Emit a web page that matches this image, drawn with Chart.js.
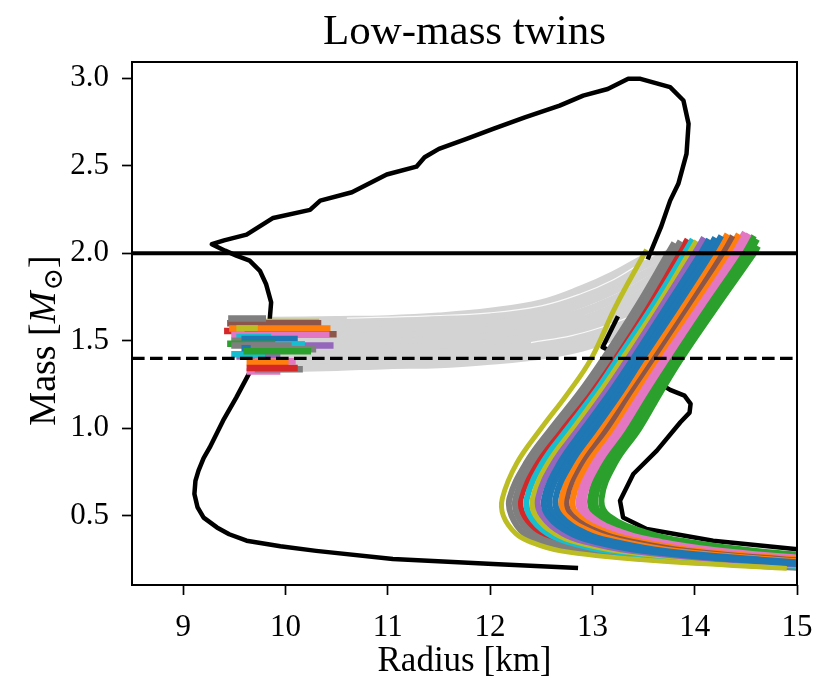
<!DOCTYPE html>
<html>
<head>
<meta charset="utf-8">
<script src="https://cdn.jsdelivr.net/npm/chart.js@4.4.1/dist/chart.umd.min.js"></script>
<style>html,body{margin:0;padding:0;background:#fff;}canvas{display:block;}</style>
</head>
<body>
<canvas id="c" width="820" height="685"></canvas>
<script>
// ---------- text & axes ----------
const TITLE = 'Low-mass twins';
const X_LABEL = 'Radius [km]';
const Y_LABEL_PARTS = ['Mass [', 'M', '\u2299', ']'];
const X_MIN = 8.5, X_MAX = 15.0;
const Y_MIN = 0.105, Y_MAX = 3.093;
const X_TICKS = [9, 10, 11, 12, 13, 14, 15];
const Y_TICKS = [0.5, 1.0, 1.5, 2.0, 2.5, 3.0];

const TAB10 = {blue:'#1f77b4', orange:'#ff7f0e', green:'#2ca02c', red:'#d62728', purple:'#9467bd',
               brown:'#8c564b', pink:'#e377c2', gray:'#7f7f7f', olive:'#bcbd22', cyan:'#17becf'};

// ---------- horizontal reference lines ----------
const REF_SOLID_M = 2.0;
const REF_DASHED_M = 1.4;

// ---------- black envelope, visible outer part ----------
const ENV_A_R = [12.86,12.03,11.05,10.30,9.95,9.62,9.45,9.33,9.20,9.14,9.11,9.12,9.15,9.20,9.26,9.39,9.52,9.65,9.76,9.84,
                 9.86,9.81,9.75,9.65,9.52,9.41,9.28,9.40,9.62,9.88,10.24,10.34,10.65,10.99,11.28,11.36,11.50,11.77,12.03,
                 12.34,12.68,12.91,13.15,13.35,13.47,13.76,13.89,13.94,13.92,13.84,13.76,13.67,13.54];
const ENV_A_M = [0.202,0.225,0.254,0.300,0.326,0.358,0.395,0.434,0.490,0.550,0.625,0.700,0.758,0.830,0.891,1.044,1.177,1.320,1.460,1.580,
                 1.720,1.825,1.900,1.958,1.987,2.015,2.052,2.074,2.107,2.202,2.248,2.301,2.349,2.450,2.495,2.549,2.597,2.654,2.711,
                 2.777,2.844,2.901,2.939,2.997,2.997,2.949,2.873,2.740,2.568,2.397,2.301,2.149,1.965];
// ---------- black envelope, inner/right part ----------
const ENV_B_R = [13.25,13.10,13.17,13.45,13.76,13.90,13.96,13.95,13.86,13.63,13.40,13.27,13.30,13.53,14.18,14.98,15.50];
const ENV_B_M = [1.640,1.463,1.444,1.330,1.220,1.187,1.140,1.090,1.035,0.873,0.739,0.587,0.491,0.425,0.358,0.311,0.295];

// ---------- grey band (unstable branches) ----------
const BAND_R = [9.85, 10.5, 11.0, 11.5, 12.0, 12.5, 12.9, 13.2, 13.5, 13.8];
const BAND_M = [
  [1.614,1.619,1.624,1.639,1.666,1.714,1.796,1.874,1.971,null],
  [1.583,1.589,1.594,1.608,1.634,1.680,1.758,1.833,1.930,2.015],
  [1.548,1.554,1.560,1.573,1.598,1.640,1.712,1.785,1.880,1.970],
  [1.513,1.520,1.526,1.538,1.561,1.600,1.665,1.735,1.830,1.925],
  [1.478,1.485,1.492,1.503,1.525,1.562,1.620,1.688,1.780,1.880],
  [1.442,1.451,1.458,1.467,1.489,1.525,1.579,1.645,1.735,1.835],
  [1.407,1.416,1.425,1.432,1.454,1.487,1.538,1.602,1.690,1.790],
  [1.372,1.382,1.391,1.397,1.418,1.450,1.498,1.560,1.645,1.745],
  [1.341,1.351,1.361,1.366,1.386,1.416,1.461,1.521,1.604,1.704]
];
// thin light seams visible inside the band
const SEAM1_R = [10.6, 11.4, 12.0, 12.5, 12.9, 13.2, 13.45];
const SEAM1_M = [1.630, 1.643, 1.660, 1.700, 1.772, 1.848, 1.935];
const SEAM2_R = [12.4, 12.8, 13.1, 13.4];
const SEAM2_M = [1.490, 1.530, 1.580, 1.644];

// ---------- twin (compact) branches on the left ----------
const TWIN_R0 = [9.52,9.47,9.48,9.43,9.44,9.40,9.45,9.52,9.60,9.47,9.52,9.47,9.57,9.43,9.60,9.90,9.47,9.70,9.57,9.59,9.70,9.62,9.62,9.70,9.62];
const TWIN_R1 = [9.95,9.80,10.33,10.35,9.81,10.00,10.44,9.73,10.50,10.43,9.86,9.62,10.12,9.90,10.47,10.19,10.06,10.30,9.66,10.25,10.10,10.03,9.95,10.17,10.12];
const TWIN_M  = [1.411,1.424,1.607,1.600,1.628,1.556,1.570,1.571,1.537,1.535,1.522,1.500,1.511,1.483,1.473,1.480,1.474,1.452,1.458,1.440,1.383,1.379,1.325,1.338,1.345];
const TWIN_C  = ['purple','cyan','olive','brown','gray','red','orange','olive','brown','pink','cyan','gray','blue','green','purple','cyan','gray','gray','blue','green','pink','orange','pink','gray','red'];

// ---------- hadronic mass-radius curves on the right ----------
const MR_M = [0.20,0.25,0.30,0.35,0.40,0.50,0.60,0.80,1.00,1.20,1.40,1.70,2.00];
const MR_EDGE_R = [14.90,13.47,12.69,12.40,12.25,12.13,12.12,12.26,12.50,12.76,12.99,13.23,13.51];
const MR_EDGE_TOP = [13.53, 2.02];
const MR_R = [
  [15.10,13.65,12.82,12.50,12.33,12.21,12.19,12.35,12.60,12.87,13.11,13.44,13.74],
  [15.20,13.78,12.93,12.59,12.41,12.27,12.25,12.40,12.65,12.92,13.16,13.49,13.79],
  [15.30,13.90,13.04,12.68,12.48,12.33,12.30,12.46,12.71,12.97,13.21,13.54,13.85],
  [15.40,14.03,13.15,12.77,12.56,12.39,12.36,12.51,12.76,13.02,13.25,13.59,13.90],
  [15.50,14.15,13.27,12.86,12.64,12.45,12.42,12.57,12.82,13.07,13.30,13.64,13.95],
  [15.60,14.28,13.38,12.95,12.71,12.51,12.47,12.62,12.87,13.12,13.35,13.68,14.00],
  [15.70,14.40,13.49,13.04,12.79,12.57,12.53,12.68,12.92,13.17,13.40,13.73,14.06],
  [15.80,14.53,13.60,13.13,12.86,12.63,12.58,12.73,12.98,13.22,13.44,13.78,14.11],
  [15.90,14.65,13.71,13.23,12.94,12.69,12.64,12.79,13.03,13.27,13.49,13.83,14.16],
  [16.00,14.78,13.82,13.32,13.02,12.74,12.70,12.84,13.08,13.31,13.54,13.88,14.21],
  [16.10,14.90,13.93,13.41,13.09,12.80,12.75,12.89,13.14,13.36,13.59,13.93,14.27],
  [16.20,15.03,14.04,13.50,13.17,12.86,12.81,12.95,13.19,13.41,13.63,13.98,14.32],
  [16.30,15.15,14.16,13.59,13.25,12.92,12.87,13.00,13.25,13.46,13.68,14.03,14.37],
  [16.40,15.28,14.27,13.68,13.32,12.98,12.92,13.06,13.30,13.51,13.73,14.07,14.42],
  [16.50,15.40,14.38,13.77,13.40,13.04,12.98,13.11,13.35,13.56,13.78,14.12,14.48],
  [16.60,15.53,14.49,13.86,13.47,13.10,13.03,13.17,13.41,13.61,13.82,14.17,14.53],
  [16.70,15.65,14.60,13.95,13.55,13.16,13.09,13.22,13.46,13.66,13.87,14.22,14.58]
];
const MR_TOP_R = [13.80,13.86,13.93,13.98,14.02,14.09,14.14,14.20,14.26,14.32,14.37,14.43,14.49,14.53,14.58,14.61,14.62];
const MR_TOP_M = [2.06,2.07,2.08,2.08,2.07,2.09,2.08,2.09,2.10,2.11,2.10,2.11,2.12,2.11,2.10,2.08,2.04];
const MR_C = ['gray','gray','red','cyan','olive','purple','blue','blue','blue','orange','brown','orange','pink','pink','green','green','green'];
const MR_DRAW = [16,15,14,13,12,11,10,9,2,0,1,3,4,5,8,7,6];

// ---------- build datasets (bottom layer first) ----------
const layers = [];
function pts(rs, ms) {
  const out = [];
  for (let i = 0; i < rs.length; i++) if (rs[i] !== null && ms[i] !== null) out.push({x: rs[i], y: ms[i]});
  return out;
}
function add(data, color, width, extra) {
  layers.push(Object.assign({
    type: 'scatter', data, showLine: true, borderColor: color, backgroundColor: color,
    borderWidth: width, pointRadius: 0, pointHoverRadius: 0, pointHitRadius: 0,
    fill: false, tension: 0, borderCapStyle: 'butt', borderJoinStyle: 'round'
  }, extra || {}));
}
BAND_M.forEach(ms => add(pts(BAND_R, ms), '#d3d3d3', 8, {tension: 0.4}));
add(pts(SEAM1_R, SEAM1_M), 'rgba(255,255,255,0.85)', 1.2, {tension: 0.4});
add(pts(SEAM2_R, SEAM2_M), 'rgba(255,255,255,0.85)', 1.2, {tension: 0.4});
add(pts(ENV_B_R, ENV_B_M), '#000000', 4.5);
MR_DRAW.forEach(i => {
  const d = pts(MR_R[i], MR_M);
  d.push({x: MR_TOP_R[i], y: MR_TOP_M[i]});
  add(d, TAB10[MR_C[i]], 6, {tension: 0.4});
});
{
  const d = pts(MR_EDGE_R, MR_M);
  d.push({x: MR_EDGE_TOP[0], y: MR_EDGE_TOP[1]});
  add(d, TAB10.olive, 5, {tension: 0.4});
}
add(pts(ENV_A_R, ENV_A_M), '#000000', 4.5);
TWIN_M.forEach((m, i) => add([{x: TWIN_R0[i], y: m}, {x: TWIN_R1[i], y: m}], TAB10[TWIN_C[i]], 6.5));
add([{x: X_MIN, y: REF_SOLID_M}, {x: X_MAX, y: REF_SOLID_M}], '#000000', 4);
add([{x: X_MIN, y: REF_DASHED_M}, {x: X_MAX, y: REF_DASHED_M}], '#000000', 3.4, {borderDash: [12.6, 5.4]});
layers.forEach((d, i) => { d.order = layers.length - i; });

const SERIF = "'Liberation Serif', 'DejaVu Serif', serif";

const framePlugin = {
  id: 'frame',
  afterDatasetsDraw(chart) {
    const {ctx, chartArea: a} = chart;
    ctx.save();
    ctx.strokeStyle = '#000';
    ctx.lineWidth = 2;
    ctx.strokeRect(a.left, a.top, a.right - a.left, a.bottom - a.top);
    ctx.restore();
  }
};
const yTitlePlugin = {
  id: 'yTitle',
  afterDraw(chart) {
    const ctx = chart.ctx;
    const fonts = ["38px " + SERIF, "italic 38px " + SERIF, "27px 'DejaVu Serif', serif", "38px " + SERIF];
    const shifts = [0, 0, 7, 0];
    ctx.save();
    let w = 0;
    const ws = Y_LABEL_PARTS.map((t, i) => { ctx.font = fonts[i]; const m = ctx.measureText(t).width; w += m; return m; });
    ctx.translate(55, 341);
    ctx.rotate(-Math.PI / 2);
    ctx.fillStyle = '#000';
    ctx.textBaseline = 'alphabetic';
    ctx.textAlign = 'left';
    let x = -w / 2;
    Y_LABEL_PARTS.forEach((t, i) => { ctx.font = fonts[i]; ctx.fillText(t, x, shifts[i]); x += ws[i] + (i === 1 ? 1 : 0); });
    ctx.restore();
  }
};

new Chart(document.getElementById('c'), {
  type: 'scatter',
  data: {datasets: layers},
  options: {
    responsive: false,
    animation: false,
    events: [],
    devicePixelRatio: 1,
    layout: {padding: {left: 0, right: 23, top: 0, bottom: 0}},
    plugins: {
      legend: {display: false},
      tooltip: {enabled: false},
      title: {display: true, text: TITLE, fullSize: false, color: '#000',
              font: {family: SERIF, size: 43, weight: 'normal', lineHeight: 1.2},
              padding: {top: 7, bottom: 3.4}}
    },
    scales: {
      x: {
        type: 'linear', min: X_MIN, max: X_MAX,
        afterBuildTicks: s => { s.ticks = X_TICKS.map(v => ({value: v})); },
        afterFit: s => { s.height = 100; s.paddingLeft = 0; s.paddingRight = 0; },
        grid: {display: true, drawOnChartArea: false, drawTicks: true, tickLength: 10, tickWidth: 1.7, tickColor: '#000'},
        border: {display: false},
        ticks: {color: '#000', font: {family: SERIF, size: 31}, padding: 14, maxRotation: 0,
                autoSkip: false, callback: v => String(v)},
        title: {display: true, text: X_LABEL, color: '#000', font: {family: SERIF, size: 35, lineHeight: 1.2},
                padding: {top: 0, bottom: 2}}
      },
      y: {
        type: 'linear', min: Y_MIN, max: Y_MAX,
        afterBuildTicks: s => { s.ticks = Y_TICKS.map(v => ({value: v})); },
        afterFit: s => { s.width = 132; s.paddingTop = 0; s.paddingBottom = 0; },
        grid: {display: true, drawOnChartArea: false, drawTicks: true, tickLength: 10, tickWidth: 1.7, tickColor: '#000'},
        border: {display: false},
        ticks: {color: '#000', font: {family: SERIF, size: 31}, padding: 13, autoSkip: false,
                callback: v => Number(v).toFixed(1)},
        title: {display: false}
      }
    }
  },
  plugins: [framePlugin, yTitlePlugin]
});
</script>
</body>
</html>
